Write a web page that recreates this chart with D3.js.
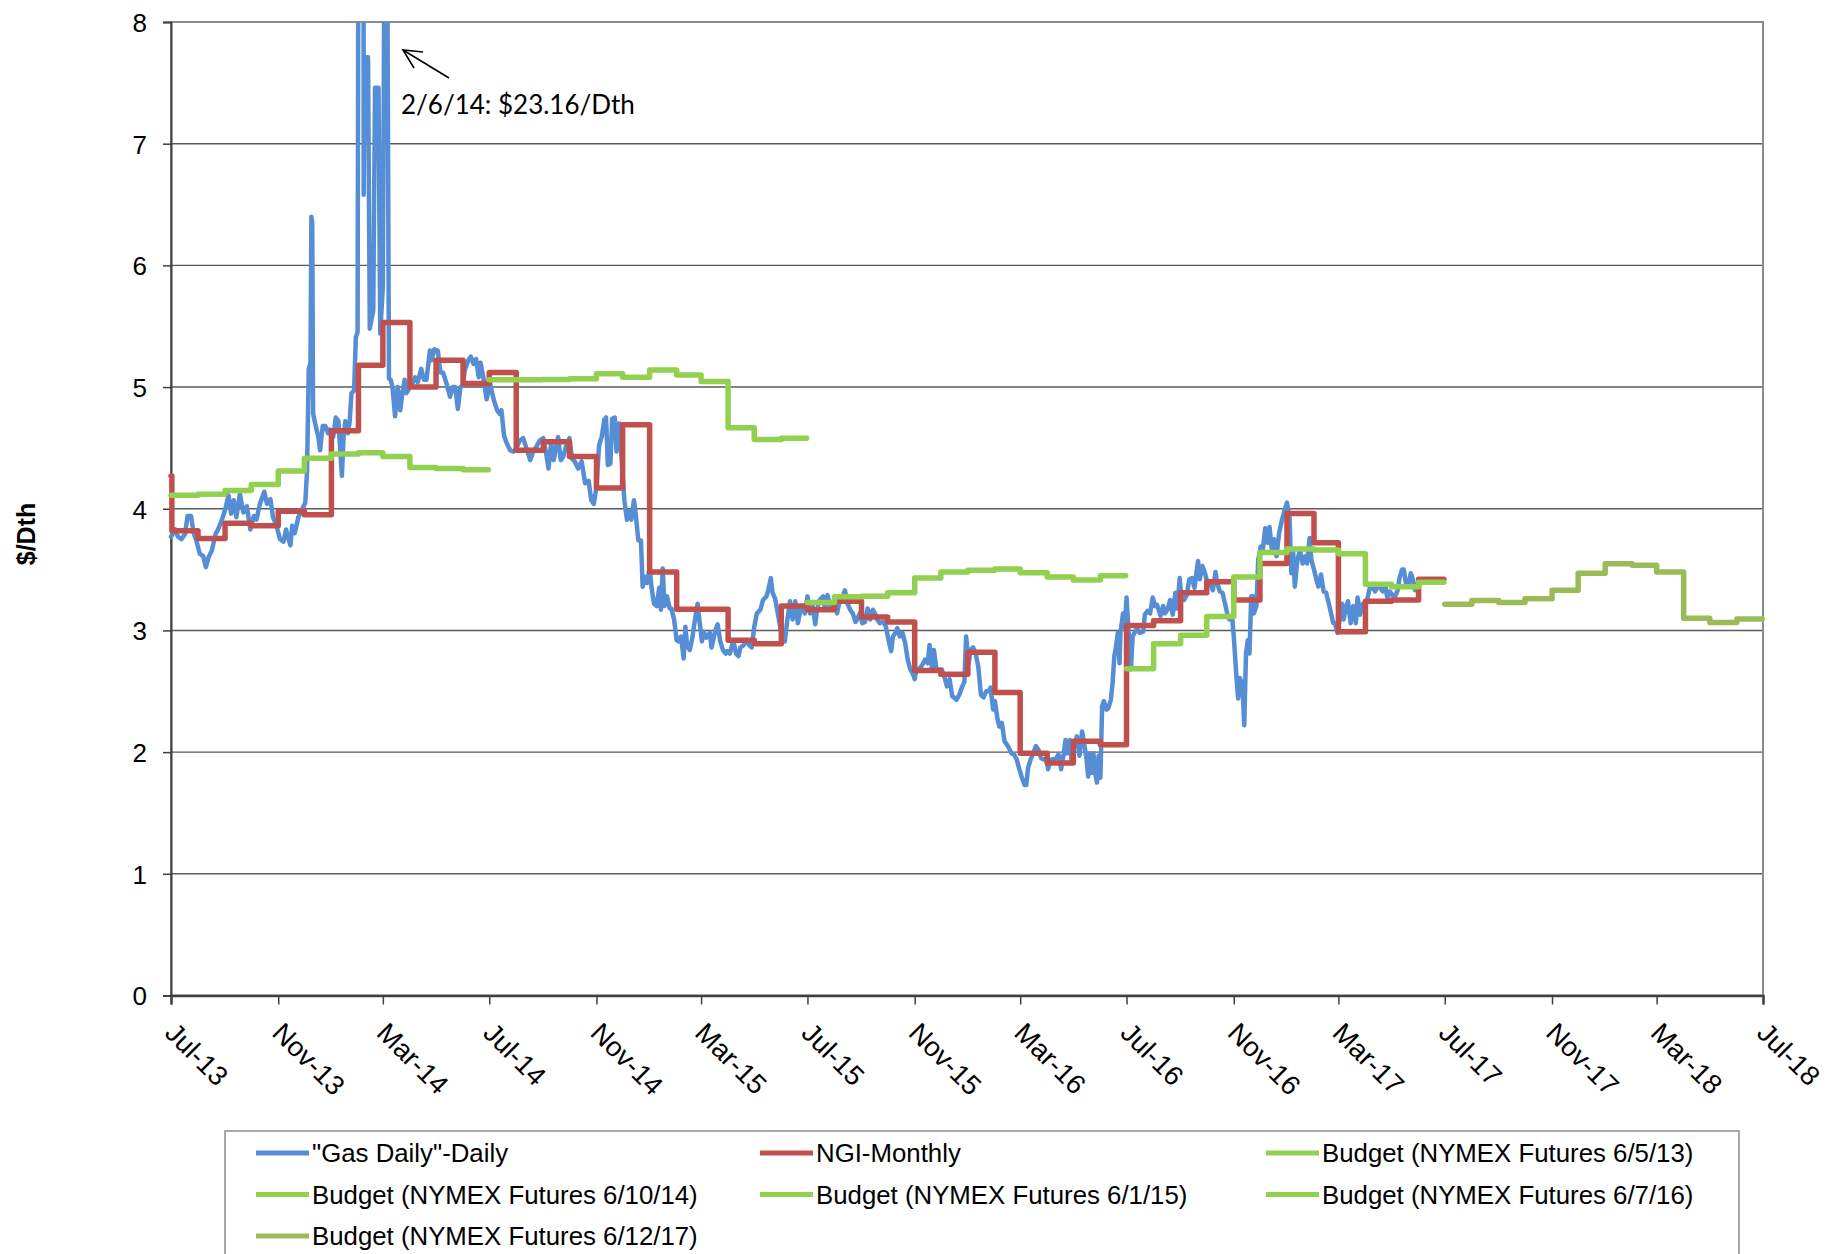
<!DOCTYPE html>
<html>
<head>
<meta charset="utf-8">
<script src="https://cdn.jsdelivr.net/npm/d3@7"></script>
<style>
  body { margin: 0; background: #fff; }
  svg text { font-family: "Liberation Sans", Arial, sans-serif; fill: #000; }
</style>
</head>
<body>
<svg id="chart"></svg>
<script>
// ---- data ----
const startDate = "2013-07-01";

// "Gas Daily"-Daily: [days since startDate, $/Dth]
const gasDaily = [
  [0,3.77],[5,3.83],[8,3.77],[12,3.75],[16,3.79],[19,3.94],[23,3.94],[26,3.80],[29,3.74],[33,3.63],
  [37,3.61],[40,3.52],[43,3.60],[47,3.66],[51,3.79],[54,3.83],[58,3.90],[62,3.99],[66,4.11],[69,3.96],
  [72,4.07],[75,3.93],[79,4.12],[83,3.97],[87,4.02],[91,3.83],[95,3.94],[98,3.91],[102,4.04],[107,4.14],
  [110,4.04],[114,4.08],[117,3.93],[121,3.86],[125,3.75],[129,3.73],[132,3.83],[134,3.77],[137,3.70],[139,3.86],
  [142,3.80],[146,3.93],[150,3.99],[154,4.05],[156,4.30],[158,5.15],[160,5.20],[161,6.40],[162,6.35],[163,4.78],
  [166,4.68],[169,4.59],[171,4.48],[174,4.68],[177,4.68],[180,4.62],[182,4.65],[186,4.59],[189,4.75],[192,4.72],
  [194,4.50],[196,4.27],[198,4.60],[200,4.72],[203,4.62],[205,4.72],[207,4.95],[210,4.97],[212,5.41],[214,5.45],
  [215,9.0],[217,12.0],[220,23.16],[221,6.58],[222,7.71],[226,7.71],[228,5.48],[232,5.63],[234,7.46],[238,7.46],
  [240,5.44],[243,5.83],[245,9.0],[247,10.5],[250,5.07],[252,5.06],[254,5.0],[257,4.76],[260,5.0],[263,4.81],
  [265,4.93],[268,5.06],[270,4.95],[274,5.0],[277,5.03],[280,5.08],[283,5.04],[287,5.15],[290,5.06],[293,5.06],
  [297,5.30],[299,5.22],[302,5.31],[306,5.30],[309,5.12],[312,5.12],[316,5.03],[320,4.92],[323,5.0],[326,5.0],
  [329,4.82],[332,5.0],[335,5.02],[337,5.14],[341,5.22],[344,5.25],[347,5.19],[350,5.23],[353,5.08],[355,5.20],
  [358,5.09],[362,4.90],[366,5.03],[370,4.90],[374,4.81],[377,4.78],
  [379,4.81],[382,4.60],[385,4.54],[389,4.48],[393,4.47],[397,4.51],[400,4.56],[404,4.58],[408,4.49],[412,4.40],
  [416,4.48],[419,4.51],[423,4.56],[427,4.58],[430,4.47],[433,4.33],[436,4.54],[439,4.40],[442,4.52],[444,4.59],
  [447,4.40],[450,4.43],[453,4.51],[457,4.58],[460,4.41],[463,4.39],[467,4.33],[471,4.39],[475,4.21],[479,4.23],
  [482,4.07],[485,4.04],[488,4.18],[491,4.52],[494,4.59],[497,4.73],[499,4.75],[501,4.36],[504,4.37],[506,4.74],
  [509,4.75],[511,4.47],[514,4.70],[517,4.40],[520,4.07],[523,3.91],[525,3.98],[528,3.91],[531,4.07],[533,3.96],
  [536,3.74],[539,3.74],[541,3.36],[544,3.44],[546,3.39],[549,3.52],[551,3.36],[554,3.22],[557,3.20],[560,3.35],
  [562,3.17],[564,3.51],[566,3.20],[569,3.28],[572,3.18],[574,3.18],[577,3.09],[580,2.92],[582,2.91],[585,2.95],
  [588,2.77],[590,3.03],[592,2.87],[595,2.84],[598,2.94],[601,3.09],[604,3.22],[606,3.09],[609,2.91],[611,2.99],
  [614,2.94],[618,2.98],[620,2.86],[624,2.99],[627,3.05],[630,2.91],[633,2.84],[636,2.81],[638,2.83],[641,2.81],
  [645,2.92],[648,2.81],[651,2.79],[653,2.86],[657,2.88],[660,2.92],[663,2.88],[666,2.86],[669,3.03],[672,3.14],
  [676,3.17],[679,3.25],[683,3.28],[685,3.33],[688,3.43],[690,3.31],[693,3.26],[696,3.14],[699,3.02],[702,2.92],
  [704,2.91],[707,3.09],[710,3.24],[713,3.09],[716,3.24],[719,3.06],[722,3.17],
  [725,3.17],[727,3.14],[730,3.28],[733,3.14],[736,3.20],[739,3.05],[741,3.17],[744,3.25],[748,3.28],[750,3.17],
  [753,3.29],[756,3.20],[759,3.17],[762,3.22],[764,3.14],[767,3.24],[771,3.29],[773,3.33],[776,3.22],[779,3.17],
  [782,3.14],[785,3.07],[787,3.09],[790,3.14],[793,3.06],[796,3.07],[799,3.18],[802,3.09],[805,3.17],[808,3.13],
  [810,3.09],[813,3.06],[817,3.07],[820,3.03],[823,2.92],[826,2.83],[828,2.95],[831,2.98],[833,3.02],[836,2.95],
  [839,2.98],[842,2.90],[845,2.76],[848,2.68],[851,2.64],[853,2.60],[855,2.68],[859,2.69],[862,2.72],[865,2.76],
  [868,2.73],[870,2.88],[873,2.68],[875,2.84],[878,2.68],[881,2.68],[884,2.68],[887,2.62],[890,2.54],[893,2.60],
  [896,2.46],[898,2.45],[901,2.43],[904,2.47],[907,2.53],[910,2.58],[912,2.95],[915,2.73],[917,2.84],[920,2.86],
  [923,2.81],[926,2.70],[929,2.47],[932,2.45],[935,2.50],[938,2.50],[940,2.53],[943,2.35],[945,2.42],[948,2.27],
  [950,2.21],[953,2.24],[956,2.09],[959,2.06],[962,2.02],[964,1.99],[967,1.98],[970,1.94],[973,1.86],[976,1.79],
  [979,1.73],[981,1.73],[983,1.87],[986,1.94],[989,1.99],[992,2.05],[995,2.02],[998,1.95],[1001,1.94],[1004,1.95],
  [1006,1.86],[1009,1.94],[1012,1.94],[1015,1.95],[1018,1.98],[1021,1.86],[1024,1.99],[1026,2.10],[1028,1.99],[1031,2.10],
  [1033,1.91],[1036,2.05],[1039,2.13],[1042,1.97],[1045,2.17],[1047,2.09],[1050,1.95],[1052,1.80],[1054,1.99],[1056,1.83],
  [1058,1.99],[1060,1.83],[1062,1.75],[1064,1.97],[1066,1.79],[1068,2.38],[1070,2.42],[1073,2.35],[1075,2.36],[1078,2.43],
  [1080,2.57],[1082,2.79],[1084,2.87],[1086,2.98],[1088,2.73],[1089,2.98],[1092,3.14],[1094,3.03],[1096,3.27],[1098,3.03],
  [1101,2.68],[1103,2.95],[1108,3.02],[1111,2.98],
  [1115,2.99],[1117,3.13],[1120,3.16],[1123,3.14],[1126,3.27],[1129,3.20],[1131,3.21],[1135,3.12],[1138,3.20],[1140,3.14],
  [1143,3.17],[1146,3.25],[1149,3.13],[1152,3.31],[1154,3.18],[1157,3.43],[1159,3.25],[1162,3.25],[1165,3.29],[1168,3.42],
  [1171,3.43],[1174,3.35],[1176,3.47],[1178,3.57],[1180,3.42],[1183,3.53],[1186,3.47],[1189,3.38],[1192,3.39],[1195,3.33],
  [1198,3.48],[1200,3.39],[1203,3.32],[1206,3.31],[1209,3.22],[1212,3.12],[1214,3.09],[1217,3.12],[1219,2.95],[1222,2.62],
  [1224,2.44],[1226,2.61],[1229,2.54],[1231,2.22],[1233,2.81],[1235,2.92],[1237,2.81],[1239,3.28],[1241,3.28],[1242,3.14],
  [1245,3.20],[1247,3.58],[1250,3.69],[1252,3.64],[1255,3.84],[1258,3.72],[1260,3.85],[1263,3.64],[1265,3.75],[1268,3.61],
  [1271,3.80],[1274,3.90],[1277,3.98],[1280,4.05],[1283,3.92],[1285,3.47],[1287,3.66],[1289,3.36],[1292,3.58],[1295,3.66],
  [1298,3.55],[1301,3.61],[1303,3.55],[1306,3.76],[1308,3.58],[1311,3.50],[1313,3.44],[1316,3.36],[1319,3.46],[1322,3.32],
  [1325,3.31],[1328,3.22],[1330,3.16],[1333,3.06],[1335,3.06],[1338,2.98],[1341,3.12],[1343,3.22],[1345,3.09],[1348,3.20],
  [1350,3.24],[1353,3.06],[1356,3.20],[1359,3.06],[1361,3.27],[1364,3.13],[1367,3.22],[1370,3.20],[1372,3.25],[1375,3.35],
  [1378,3.36],[1381,3.32],[1384,3.36],[1387,3.35],[1390,3.32],[1393,3.36],[1395,3.27],[1398,3.32],[1401,3.29],[1404,3.28],
  [1407,3.33],[1409,3.43],[1412,3.50],[1414,3.50],[1417,3.36],[1419,3.36],[1422,3.47],[1424,3.43],[1427,3.33]
];

// NGI-Monthly, one value per month from Jul-13 to Jun-17 (first day printed at 4.27)
const ngiStartMonth = "2013-07";
const ngiFirstDay = 4.27;
const ngiMonthly = [
  3.82, 3.755, 3.88, 3.86, 3.98, 3.95,
  4.64, 5.18, 5.53, 5.00, 5.22, 5.03, 5.12, 4.48, 4.55, 4.43, 4.17, 4.69,
  3.48, 3.175, 3.175, 2.92, 2.89, 3.20, 3.17, 3.24, 3.11, 3.07, 2.67, 2.64,
  2.82, 2.49, 1.99, 1.91, 2.09, 2.06, 3.04, 3.08, 3.31, 3.40, 3.25, 3.55,
  3.96, 3.72, 2.99, 3.24, 3.25, 3.42
];

// Budgets, twelve monthly values from July to June
const budget13 = [4.11, 4.12, 4.15, 4.20, 4.31, 4.415, 4.45, 4.46, 4.43, 4.34, 4.33, 4.32];
const budget14 = [5.06, 5.06, 5.063, 5.068, 5.11, 5.08, 5.14, 5.10, 5.045, 4.665, 4.57, 4.58];
const budget15 = [3.23, 3.276, 3.28, 3.31, 3.43, 3.48, 3.495, 3.505, 3.475, 3.44, 3.415, 3.45];
const budget16 = [2.685, 2.89, 2.96, 3.115, 3.44, 3.64, 3.67, 3.66, 3.63, 3.38, 3.36, 3.395];
const budget17 = [3.215, 3.247, 3.23, 3.26, 3.33, 3.47, 3.547, 3.535, 3.48, 3.10, 3.065, 3.094];
const budgetStarts = ["2013-07", "2014-07", "2015-07", "2016-07", "2017-07"];

const seriesNames = ["\"Gas Daily\"-Daily", "NGI-Monthly", "Budget (NYMEX Futures 6/5/13)",
  "Budget (NYMEX Futures 6/10/14)", "Budget (NYMEX Futures 6/1/15)", "Budget (NYMEX Futures 6/7/16)",
  "Budget (NYMEX Futures 6/12/17)"];
const seriesColors = ["#558ED5", "#C0504D", "#92D050", "#92D050", "#92D050", "#92D050", "#9BBB59"];

const xTickLabels = ["Jul-13", "Nov-13", "Mar-14", "Jul-14", "Nov-14", "Mar-15", "Jul-15", "Nov-15",
  "Mar-16", "Jul-16", "Nov-16", "Mar-17", "Jul-17", "Nov-17", "Mar-18", "Jul-18"];
const yTicks = [0, 1, 2, 3, 4, 5, 6, 7, 8];

// ---- layout ----
const W = 1827, H = 1254;
const plot = { left: 171, right: 1763, top: 22, bottom: 995.5 };

const svg = d3.select("#chart").attr("width", W).attr("height", H);

const parseDay = d3.utcParse("%Y-%m-%d");
const parseMonth = d3.utcParse("%Y-%m");
const parseTick = d3.utcParse("%b-%y");
const t0 = parseDay(startDate);
const tickDates = xTickLabels.map(parseTick);

const x = d3.scaleUtc()
  .domain([tickDates[0], tickDates[tickDates.length - 1]])
  .range([plot.left, plot.right]);
const y = d3.scaleLinear().domain([0, 8]).range([plot.bottom, plot.top]);

// monthly values -> step points, ending on the last day of the last month
function monthlyPoints(startMonth, values) {
  const m0 = parseMonth(startMonth);
  const pts = values.map((v, i) => ({ date: d3.utcMonth.offset(m0, i), v: v }));
  pts.push({ date: d3.utcDay.offset(d3.utcMonth.offset(m0, values.length), -1), v: values[values.length - 1] });
  return pts;
}

const dailyPts = gasDaily.map(d => ({ date: d3.utcDay.offset(t0, d[0]), v: d[1] }));
const ngiPts = monthlyPoints(ngiStartMonth, ngiMonthly);
ngiPts[0].date = d3.utcDay.offset(parseMonth(ngiStartMonth), 1);
ngiPts.unshift({ date: parseMonth(ngiStartMonth), v: ngiFirstDay });
const budgets = [budget13, budget14, budget15, budget16, budget17]
  .map((vals, i) => monthlyPoints(budgetStarts[i], vals));

// ---- gridlines ----
svg.append("g").selectAll("line")
  .data(yTicks.filter(t => t > 0 && t < 8))
  .enter().append("line")
  .attr("x1", plot.left).attr("x2", plot.right)
  .attr("y1", d => y(d)).attr("y2", d => y(d))
  .attr("stroke", "#5a5a5a").attr("stroke-width", 1.4);

// plot frame (top and right are light grey)
svg.append("rect")
  .attr("x", plot.left).attr("y", plot.top)
  .attr("width", plot.right - plot.left).attr("height", plot.bottom - plot.top)
  .attr("fill", "none").attr("stroke", "#8c8c8c").attr("stroke-width", 2);

// ---- axes ----
const yAxis = svg.append("g")
  .attr("transform", `translate(${plot.left},0)`)
  .call(d3.axisLeft(y).tickValues(yTicks).tickSize(8).tickPadding(16).tickFormat(d3.format("d")));
yAxis.select(".domain").attr("stroke", "#404040").attr("stroke-width", 2);
yAxis.selectAll(".tick line").attr("stroke", "#404040").attr("stroke-width", 1.5);
yAxis.selectAll("text").attr("font-size", 26).attr("dy", "0.36em");

const xAxis = svg.append("g")
  .attr("transform", `translate(0,${plot.bottom})`)
  .call(d3.axisBottom(x).tickValues(tickDates).tickSize(9).tickFormat(d3.utcFormat("%b-%y")));
xAxis.select(".domain").attr("stroke", "#404040").attr("stroke-width", 2.5);
xAxis.selectAll(".tick line").attr("stroke", "#404040").attr("stroke-width", 1.5);
xAxis.selectAll("text")
  .attr("font-size", 27.5)
  .attr("x", 0).attr("y", 0).attr("dy", 0)
  .attr("text-anchor", "start")
  .attr("transform", "translate(-8,39) rotate(45)");

svg.append("text")
  .attr("transform", "translate(35,534) rotate(-90)")
  .attr("text-anchor", "middle")
  .attr("font-size", 25).attr("font-weight", "bold")
  .text("$/Dth");

// ---- series ----
svg.append("clipPath").attr("id", "plot-clip")
  .append("rect").attr("x", plot.left - 10).attr("y", plot.top)
  .attr("width", plot.right - plot.left + 20).attr("height", plot.bottom - plot.top + 10);

const lines = svg.append("g").attr("clip-path", "url(#plot-clip)");

const dailyLine = d3.line().x(d => x(d.date)).y(d => y(d.v));
const stepLine = d3.line().x(d => x(d.date)).y(d => y(d.v)).curve(d3.curveStepAfter);

lines.append("path").datum(dailyPts)
  .attr("d", dailyLine)
  .attr("fill", "none").attr("stroke", seriesColors[0]).attr("stroke-width", 4.5)
  .attr("stroke-linejoin", "round").attr("stroke-linecap", "round");

lines.append("path").datum(ngiPts)
  .attr("d", stepLine)
  .attr("fill", "none").attr("stroke", seriesColors[1]).attr("stroke-width", 5.5)
  .attr("stroke-linejoin", "round").attr("stroke-linecap", "round");

lines.selectAll(".budget").data(budgets).enter().append("path")
  .attr("class", "budget")
  .attr("d", stepLine)
  .attr("fill", "none")
  .attr("stroke", (d, i) => seriesColors[i + 2])
  .attr("stroke-width", 5.5)
  .attr("stroke-linejoin", "round").attr("stroke-linecap", "round");

// ---- annotation ----
const ann = svg.append("g").attr("stroke", "#000").attr("stroke-width", 1.6).attr("fill", "none");
ann.append("line").attr("x1", 449).attr("y1", 78).attr("x2", 403).attr("y2", 50);
ann.append("polyline").attr("points", "414,68 403,50 423,52");
svg.append("text")
  .attr("x", 401).attr("y", 114)
  .style("font-family", "Lato, 'Open Sans', sans-serif")
  .attr("font-size", 26)
  .text("2/6/14: $23.16/Dth");

// ---- legend ----
const legend = svg.append("g");
legend.append("rect")
  .attr("x", 225).attr("y", 1131).attr("width", 1514).attr("height", 150)
  .attr("fill", "none").attr("stroke", "#8c8c8c").attr("stroke-width", 1.5);

const legendCols = [256, 760, 1266];
const legendRows = [1153, 1194.5, 1236];
const items = legend.selectAll(".item").data(seriesNames).enter().append("g")
  .attr("class", "item")
  .attr("transform", (d, i) => `translate(${legendCols[i % 3]},${legendRows[Math.floor(i / 3)]})`);
items.append("line")
  .attr("x1", 0).attr("x2", 53).attr("y1", 0).attr("y2", 0)
  .attr("stroke", (d, i) => seriesColors[i]).attr("stroke-width", 5);
items.append("text")
  .attr("x", 56).attr("y", 9)
  .attr("font-size", 25.8)
  .text(d => d);
</script>
</body>
</html>
